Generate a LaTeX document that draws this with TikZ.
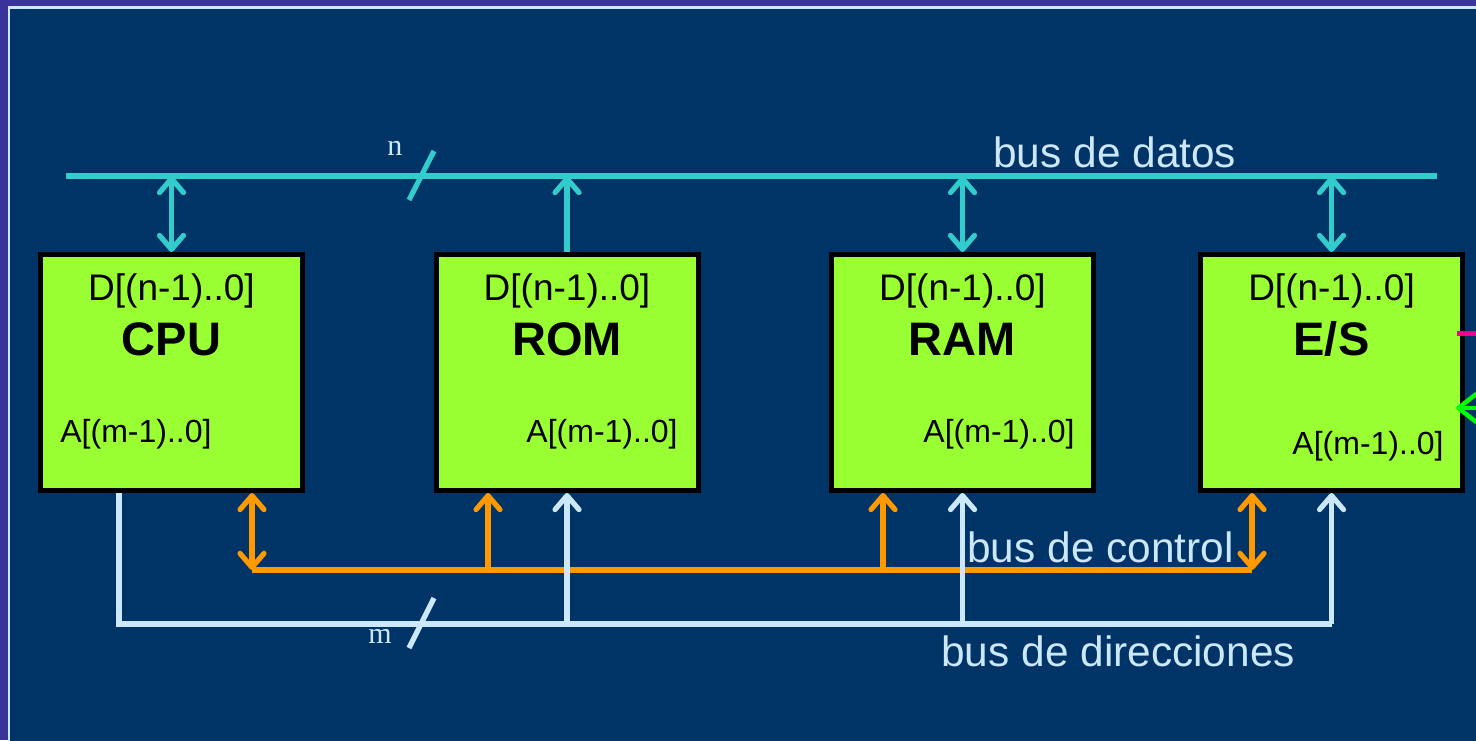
\documentclass[tikz,border=0pt]{standalone}
\usepackage{fontspec}
\setmainfont{Liberation Sans}
\newfontfamily\serifbus{Liberation Serif}
\usetikzlibrary{arrows.meta}

\definecolor{fondo}{HTML}{003366}
\definecolor{marco}{HTML}{3A3399}
\definecolor{claro}{HTML}{CCE8FF}
\definecolor{turq}{HTML}{33CCCC}
\definecolor{naranja}{HTML}{FF9900}
\definecolor{verde}{HTML}{99FF33}
\definecolor{verdes}{HTML}{00FF00}

\tikzset{
  caja/.style={draw=black, line width=2.5pt, fill=verde, minimum width=131pt, minimum height=118pt, inner sep=0pt},
  dlab/.style={anchor=base, inner sep=0pt, font=\fontsize{18.5}{20}\selectfont},
  nlab/.style={anchor=base, inner sep=0pt, font=\fontsize{23.5}{26}\selectfont\bfseries},
  alab/.style={inner sep=0pt, font=\fontsize{16}{18}\selectfont},
  blab/.style={anchor=base west, inner sep=0pt, text=claro, font=\fontsize{21.2}{24}\selectfont},
  wlab/.style={anchor=base west, inner sep=0pt, text=claro, font=\fontsize{15}{17}\serifbus},
  dbus/.style={draw=turq, line width=2.6pt},
  cbus/.style={draw=naranja, line width=2.6pt},
  abus/.style={draw=claro, line width=2.6pt},
}

\begin{document}
\begin{tikzpicture}[x=0.5pt, y=-0.5pt, >={Straight Barb[length=7pt,width=12pt,round]}]
    \useasboundingbox (0,0) rectangle (1476,740);
    \clip (0,0) rectangle (1476,740);

    % 背景
    \fill[marco] (0,0) rectangle (1476,740);
    \fill[claro] (8,6) rectangle (1490,750);
    \fill[fondo] (10,9) rectangle (1490,750);

    % 箱
    \node[caja] (cpu) at (171.5,372.5) {};
    \node[caja] (rom) at (567,372.5) {};
    \node[caja] (ram) at (962.5,372.5) {};
    \node[caja] (es) at (1331.5,372.5) {};

    % bus de datos
    \coordinate (d1) at (66,176);
    \coordinate (d2) at (1437,176);
    \coordinate (n1) at (409,200);
    \coordinate (n2) at (434,151);
    \draw[dbus] (d1) -- (d2);
    \draw[dbus] (n1) -- (n2);
    \draw[dbus, <->] (cpu.north) -- (cpu.north |- d1);
    \draw[dbus, ->] (rom.north) -- (rom.north |- d1);
    \draw[dbus, <->] (ram.north) -- (ram.north |- d1);
    \draw[dbus, <->] (es.north) -- (es.north |- d1);

    % bus de control
    \coordinate (c1) at (252,570);
    \coordinate (c2) at (488,570);
    \coordinate (c3) at (883,570);
    \coordinate (c4) at (1252,570);
    \draw[cbus] (c1) -- (c4);
    \draw[cbus, <->] (c1) -- (c1 |- cpu.south);
    \draw[cbus, ->] (c2) -- (c2 |- rom.south);
    \draw[cbus, ->] (c3) -- (c3 |- ram.south);
    \draw[cbus, <->] (c4) -- (c4 |- es.south);

    % bus de direcciones
    \coordinate (a1) at (119,624);
    \coordinate (a2) at (1331.5,624);
    \coordinate (m1) at (409,648);
    \coordinate (m2) at (434,598);
    \draw[abus] (a1 |- cpu.south) -- (a1) -- (a2);
    \draw[abus] (m1) -- (m2);
    \draw[abus, ->] (rom.south |- a1) -- (rom.south);
    \draw[abus, ->] (ram.south |- a1) -- (ram.south);
    \draw[abus, ->] (a2) -- (es.south);

    % 右の線
    \coordinate (p1) at (1457,333);
    \coordinate (p2) at (1490,333);
    \coordinate (g1) at (1456,408);
    \coordinate (g2) at (1490,408);
    \draw[magenta, line width=2.5pt] (p1) -- (p2);
    \draw[verdes, line width=2.2pt, <-, >={Straight Barb[length=9pt,width=14pt,round]}] (g1) -- (g2);

    % 文字
    \node[dlab] (cpud) at (171.5,300) {D[(n-1)..0]};
    \node[dlab] (romd) at (567,300) {D[(n-1)..0]};
    \node[dlab] (ramd) at (962.5,300) {D[(n-1)..0]};
    \node[dlab] (esd) at (1331.5,300) {D[(n-1)..0]};
    \node[nlab] (cpun) at (171.5,355) {CPU};
    \node[nlab] (romn) at (567,355) {ROM};
    \node[nlab] (ramn) at (962.5,355) {RAM};
    \node[nlab] (esn) at (1331.5,355) {E/S};
    \node[alab, anchor=base west] (cpua) at (60,442) {A[(m-1)..0]};
    \node[alab, anchor=base east] (roma) at (678,442) {A[(m-1)..0]};
    \node[alab, anchor=base east] (rama) at (1075,442) {A[(m-1)..0]};
    \node[alab, anchor=base east] (esa) at (1444,454) {A[(m-1)..0]};

    \node[blab] (datos) at (993,167) {bus de datos};
    \node[blab] (control) at (967,562) {bus de control};
    \node[blab] (direc) at (941,666) {bus de direcciones};
    \node[wlab] (nn) at (387,155) {n};
    \node[wlab] (mm) at (368,643) {m};
\end{tikzpicture}
\end{document}
